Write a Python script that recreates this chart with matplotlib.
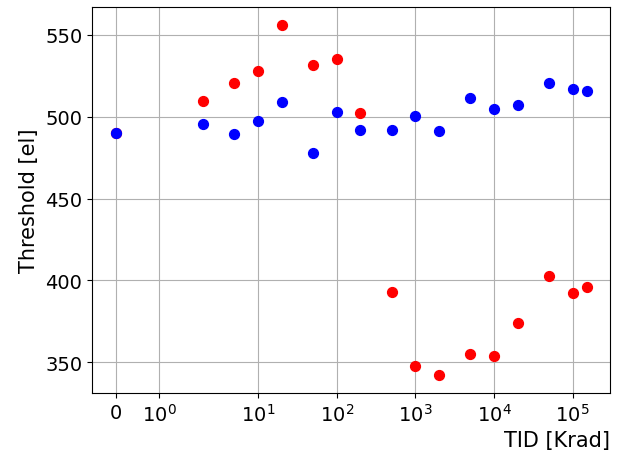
import numpy as np
import matplotlib
matplotlib.use("Agg")
import matplotlib.pyplot as plt
from matplotlib.ticker import NullLocator

# dose steps [Krad]
tid = [0, 2, 5, 10, 20, 50, 100, 200, 500, 1000, 2000, 5000,
       10000, 20000, 50000, 100000, 150000]

# threshold per dose step [el]
thr_red = [490.2, 509.3, 520.5, 527.8, 556.3, 531.3, 535.2, 502.0, 392.9,
           347.4, 341.9, 355.3, 353.7, 374.2, 402.7, 392.3, 395.8]
thr_blue = [490.2, 495.7, 489.4, 497.3, 509.1, 478.0, 502.6, 491.6, 491.8,
            500.2, 491.0, 511.5, 504.6, 506.9, 520.5, 516.7, 515.4]

xticks = [0, 1, 10, 100, 1000, 10000, 100000]

fig = plt.figure(figsize=(6.19, 4.56), dpi=100)
ax = fig.add_axes([0.1486, 0.136, 0.837, 0.8465])

ax.scatter(tid, thr_red, color="red", s=50, zorder=3)
ax.scatter(tid, thr_blue, color="blue", s=50, zorder=3)

ax.set_xscale("symlog", linthresh=2)
ax.set_xticks(xticks)
ax.xaxis.set_minor_locator(NullLocator())
ax.grid(True)
ax.set_axisbelow(True)

ax.tick_params(labelsize=14)
ax.set_xlabel("TID [Krad]", fontsize=15, loc="right")
ax.set_ylabel("Threshold [el]", fontsize=15)

fig.savefig("out.png", dpi=100)
